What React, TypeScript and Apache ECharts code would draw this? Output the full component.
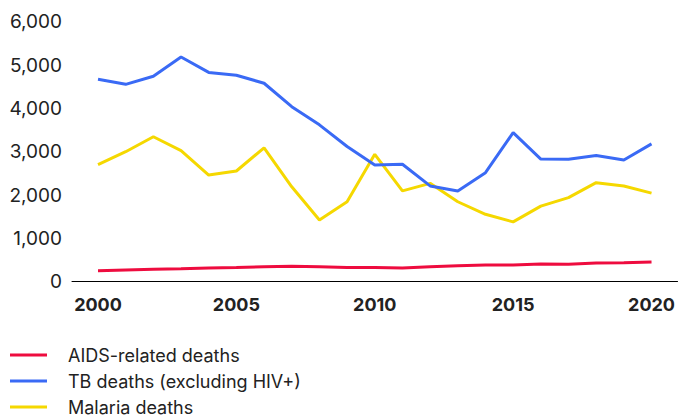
import React, { useEffect, useRef } from "react";
import * as echarts from "echarts";

const years = [2000, 2001, 2002, 2003, 2004, 2005, 2006, 2007, 2008, 2009, 2010, 2011, 2012, 2013, 2014, 2015, 2016, 2017, 2018, 2019, 2020];
const aidsDeaths = [254, 270, 286, 300, 316, 330, 346, 355, 346, 330, 330, 316, 346, 370, 385, 385, 408, 400, 431, 440, 454];
const tbDeaths = [4670, 4555, 4740, 5185, 4830, 4765, 4580, 4040, 3620, 3120, 2695, 2710, 2210, 2095, 2515, 3440, 2830, 2825, 2910, 2810, 3180];
const malariaDeaths = [2700, 3000, 3345, 3025, 2460, 2555, 3090, 2190, 1425, 1845, 2940, 2095, 2270, 1845, 1555, 1380, 1745, 1940, 2285, 2210, 2045];
const xTickLabels = [2000, 2005, 2010, 2015, 2020];
const seriesNames = ["AIDS-related deaths", "TB deaths (excluding HIV+)", "Malaria deaths"];
const colors = ["#ee0c3f", "#3a6af5", "#f5d800"];

export default function App() {
  const ref = useRef<HTMLDivElement>(null);
  useEffect(() => {
    if (!ref.current) return;
    const chart = echarts.init(ref.current, null, { renderer: "svg" });
    const mk = (vals: number[]) => years.map((y, i) => [y, vals[i]]);
    const all = [aidsDeaths, tbDeaths, malariaDeaths];
    chart.setOption({
      animation: false,
      color: colors,
      textStyle: { fontFamily: "Inter" },
      grid: { left: 72, right: 0, top: 21.7, bottom: 136.3 },
      legend: {
        orient: "vertical",
        left: 10,
        top: 346,
        padding: 0,
        itemGap: 8,
        itemWidth: 37,
        itemHeight: 3,
        icon: "rect",
        data: seriesNames,
        textStyle: { fontSize: 18, color: "#222", lineHeight: 18, padding: [0, 0, 0, 16], fontFamily: "Inter" },
      },
      xAxis: {
        type: "value",
        min: 1999.06,
        max: 2020.94,
        splitLine: { show: false },
        axisTick: { show: false },
        axisLine: { show: true, lineStyle: { color: "#000", width: 1 } },
        axisLabel: {
          customValues: xTickLabels,
          formatter: (v: number) => String(v),
          fontSize: 18,
          fontWeight: "bold",
          color: "#222",
          margin: 14,
          fontFamily: "Inter",
        },
      },
      yAxis: {
        type: "value",
        min: 0,
        max: 6000,
        interval: 1000,
        splitLine: { show: false },
        axisTick: { show: false },
        axisLine: { show: false },
        axisLabel: {
          fontSize: 19,
          color: "#222",
          margin: 10,
          fontFamily: "Inter",
          formatter: (v: number) => v.toLocaleString("en-US"),
        },
      },
      series: seriesNames.map((name, i) => ({
        name,
        type: "line",
        data: mk(all[i]),
        showSymbol: false,
        symbol: "none",
        lineStyle: { width: 3, color: colors[i] },
        itemStyle: { color: colors[i] },
        z: i === 0 ? 3 : i === 1 ? 2 : 1,
      })),
    });
    return () => chart.dispose();
  }, []);
  return <div ref={ref} style={{ position: "absolute", left: 0, top: 0, width: 678, height: 418 }} />;
}
